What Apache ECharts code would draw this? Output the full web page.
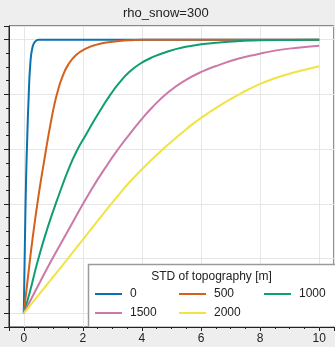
<!DOCTYPE html>
<html>
<head>
<meta charset="utf-8">
<script src="https://cdn.jsdelivr.net/npm/echarts@6/dist/echarts.min.js"></script>
<style>
  html, body { margin: 0; padding: 0; background: #eeeeee; }
  #chart { width: 335px; height: 347px; }
</style>
</head>
<body>
<div id="chart"></div>
<script>
// values (x = distance, y = fraction)
const stdNames = ["0", "500", "1000", "1500", "2000"];
const colors = ["#0a72b2", "#d5601a", "#0f9e73", "#cc79a7", "#f0e442"];

const x0 = [0, 0.04, 0.08, 0.12, 0.16, 0.22, 0.3, 0.4, 0.5, 10];
const y0 = [0, 0.27, 0.5, 0.65, 0.776, 0.91, 0.975, 0.995, 1, 1];

const x500 = [0, 0.15, 0.3, 0.5, 0.69, 0.81, 0.92, 1.03, 1.17, 1.31, 1.5, 1.77, 2.1, 2.44, 2.8, 3.23, 3.6, 4, 10];
const y500 = [0, 0.14, 0.275, 0.43, 0.557, 0.635, 0.7, 0.76, 0.82, 0.865, 0.908, 0.944, 0.967, 0.981, 0.99, 0.995, 0.998, 1, 1];

const x1000 = [0, 0.21, 0.47, 0.81, 1.2, 1.54, 1.8, 2.1, 2.4, 2.67, 2.95, 3.23, 3.57, 3.95, 4.36, 4.9, 5.49, 6.0, 6.62, 7.3, 8, 9, 10];
const y1000 = [0, 0.08, 0.19, 0.314, 0.436, 0.533, 0.595, 0.652, 0.708, 0.756, 0.802, 0.842, 0.882, 0.913, 0.936, 0.958, 0.974, 0.983, 0.99, 0.995, 0.998, 0.999, 1];

const x1500 = [0, 0.36, 0.92, 1.54, 2.22, 2.84, 3.23, 3.57, 3.95, 4.36, 4.9, 5.49, 6.05, 6.62, 7.25, 7.91, 8.5, 9.2, 10];
const y1500 = [0, 0.075, 0.19, 0.31, 0.44, 0.545, 0.605, 0.653, 0.704, 0.754, 0.809, 0.853, 0.884, 0.908, 0.93, 0.947, 0.96, 0.97, 0.978];

const x2000 = [0, 0.975, 1.77, 2.67, 3.23, 3.57, 4.25, 4.92, 5.5, 6.05, 6.78, 7.35, 7.91, 8.5, 9.04, 10];
const y2000 = [0, 0.13, 0.238, 0.361, 0.435, 0.478, 0.553, 0.62, 0.673, 0.718, 0.769, 0.804, 0.834, 0.859, 0.877, 0.903];

const xTickMin = -0.5, xTickMax = 10.5;
const yMin = -0.05, yMax = 1.05;

const xsList = [x0, x500, x1000, x1500, x2000];
const ysList = [y0, y500, y1000, y1500, y2000];

const font = "Liberation Sans";
const chart = echarts.init(document.getElementById("chart"));

const series = stdNames.map((name, i) => ({
  name,
  type: "line",
  data: xsList[i].map((x, j) => [x, ysList[i][j]]),
  smooth: 0.5,
  symbol: "none",
  lineStyle: { color: colors[i], width: 2 },
  itemStyle: { color: colors[i] },
}));

const legendBase = {
  orient: "vertical",
  top: 288,
  padding: 0,
  icon: "rect",
  itemWidth: 27,
  itemHeight: 2,
  itemGap: 7,
  z: 10,
  textStyle: { fontFamily: font, fontSize: 12, color: "#222", padding: [0, 0, 0, 3] },
};

chart.setOption({
  backgroundColor: "#eeeeee",
  animation: false,
  textStyle: { fontFamily: font },
  grid: {
    left: 9, top: 26, right: 1, bottom: 20,
    show: true, backgroundColor: "#ffffff",
    borderColor: "#222", borderWidth: 1,
  },
  legend: [
    Object.assign({ left: 95, data: ["0", "1500"] }, legendBase),
    Object.assign({ left: 179, data: ["500", "2000"] }, legendBase),
    Object.assign({ left: 264, data: ["1000"] }, legendBase),
  ],
  graphic: [
    { type: "text", left: 171 - 48, top: 7, z: 10,
      style: { text: "rho_snow=300", font: `13px "${font}"`, fill: "#222" } },
    { type: "rect", shape: { x: 88.5, y: 264.5, width: 260, height: 62 }, z: 5,
      style: { fill: "#ffffff", stroke: null } },
    { type: "polyline", shape: { points: [[88.5, 327], [88.5, 264.5], [340, 264.5]] }, z: 6,
      style: { stroke: "#9a9a9a", lineWidth: 1.5, fill: null } },
    { type: "text", x: 211.5, y: 277, z: 6,
      style: { text: "STD of topography [m]", font: `12px "${font}"`, fill: "#222",
        textAlign: "center", textVerticalAlign: "middle" } },
  ],
  xAxis: {
    type: "value",
    min: xTickMin, max: xTickMax,
    splitNumber: 5,
    axisLine: { onZero: false, lineStyle: { color: "#222" } },
    axisTick: { inside: false, length: 4, lineStyle: { color: "#222" } },
    minorTick: { show: true, splitNumber: 4, length: 2, lineStyle: { color: "#222" } },
    axisLabel: { color: "#222", fontSize: 12, margin: 6, showMinLabel: false, showMaxLabel: false },
    splitLine: { show: true, lineStyle: { color: "#e6e6e6", width: 1 } },
  },
  yAxis: {
    type: "value",
    min: yMin, max: yMax,
    splitNumber: 5,
    axisLine: { onZero: false, lineStyle: { color: "#222" } },
    axisTick: { inside: false, length: 5, lineStyle: { color: "#222" } },
    minorTick: { show: true, splitNumber: 4, length: 3, lineStyle: { color: "#222" } },
    axisLabel: { show: false },
    splitLine: { show: true, lineStyle: { color: "#e6e6e6", width: 1 } },
  },
  series,
});
</script>
</body>
</html>
